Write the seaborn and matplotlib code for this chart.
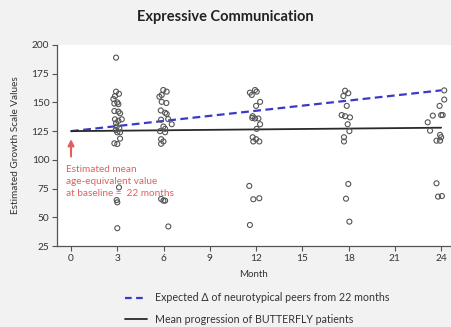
import matplotlib
matplotlib.use("Agg")
import matplotlib.pyplot as plt
import seaborn as sns
import pandas as pd
from matplotlib.lines import Line2D

# --- data ---
month3_x = [2.92, 2.92, 3.11, 2.85, 2.75, 3.0, 2.81, 3.07, 2.81, 3.07, 3.18, 2.85, 3.07, 3.29, 2.92, 2.96, 3.13, 2.9, 3.0, 3.18, 3.18, 2.81, 3.0, 3.11, 2.96, 3.0, 3.0]
month3_y = [189, 159.4, 157.5, 155.5, 153, 150, 149, 148.5, 142.5, 142, 140.5, 135.3, 134, 135.3, 132, 129, 127.5, 126, 124, 124, 118.5, 114.4, 113.8, 76, 65, 63, 40.5]
month6_x = [5.98, 6.2, 5.88, 5.73, 5.88, 6.18, 5.82, 6.1, 6.2, 5.84, 6.3, 6.53, 5.99, 6.1, 5.77, 6.1, 5.84, 5.99, 5.84, 5.84, 5.99, 6.1, 6.31]
month6_y = [160.8, 159.4, 156.5, 155, 150.5, 149.5, 143, 141, 140, 135, 135.5, 131, 129, 127, 125, 124, 118, 116, 114, 66, 64.5, 64.5, 42]
month12_x = [11.6, 11.72, 11.93, 12.04, 12.26, 12.0, 11.78, 11.93, 12.15, 11.75, 12.26, 12.04, 11.78, 11.82, 12.21, 12.0, 11.56, 11.82, 12.21, 11.6]
month12_y = [158.5, 156.5, 160.8, 159.4, 150.5, 147, 138, 136, 136, 136.5, 131, 127, 119.7, 116, 116, 118, 77.3, 65.7, 66.6, 43.3]
month18_x = [17.77, 17.98, 17.66, 17.88, 17.55, 17.77, 18.09, 17.94, 18.05, 17.7, 17.7, 17.98, 17.83, 18.05]
month18_y = [160.2, 158, 155.6, 147, 139, 138, 137, 131, 125, 119.7, 116, 79, 66.2, 46.2]
month24_x = [24.2, 24.2, 23.9, 23.46, 24.0, 24.1, 23.13, 23.28, 23.93, 24.0, 23.7, 23.93, 23.7, 23.8, 24.05]
month24_y = [160.5, 152.5, 147, 138.5, 139, 139, 132.7, 125.4, 121.7, 119.7, 116.7, 116.7, 79.6, 68, 68.5]

line_months = [0, 24]
expected_peers = [125, 160.5]
mean_butterfly = [125, 128]

x_ticks = [0, 3, 6, 9, 12, 15, 18, 21, 24]
y_ticks = [25, 50, 75, 100, 125, 150, 175, 200]

title = "Expressive Communication"
legend_expected = "Expected \u0394 of neurotypical peers from 22 months"
legend_mean = "Mean progression of BUTTERFLY patients"
annotation = "Estimated mean\nage-equivalent value\nat baseline =  22 months"

pts = pd.DataFrame({
    "month": month3_x + month6_x + month12_x + month18_x + month24_x,
    "value": month3_y + month6_y + month12_y + month18_y + month24_y,
})
lines = pd.DataFrame({"month": line_months, "expected": expected_peers, "mean": mean_butterfly})

sns.set_style("white")
plt.rcParams["font.family"] = ["Lato", "DejaVu Sans"]

fig = plt.figure(figsize=(4.51, 3.27), dpi=100, facecolor="#f2f2f2")
ax = fig.add_axes([57/451, 1-246/327, 1-57/451, (246-45)/327])
ax.set_facecolor("white")

sns.scatterplot(data=pts, x="month", y="value", ax=ax, marker="o", s=13,
                facecolor="none", edgecolor="#555555", linewidth=0.8, legend=False, zorder=3)
sns.lineplot(data=lines, x="month", y="expected", ax=ax, color="#3a3ac8", lw=1.6,
             linestyle=(0, (3.5, 2)), zorder=2)
sns.lineplot(data=lines, x="month", y="mean", ax=ax, color="#2a2a2a", lw=1.3, zorder=2)

ax.set_xlim(-0.91, 24.64)
ax.set_ylim(25, 200)
ax.set_xticks(x_ticks)
ax.set_yticks(y_ticks)
ax.tick_params(axis="both", labelsize=7.3, length=3.5, width=0.8, color="#555555",
               labelcolor="#333333", pad=2, direction="out", bottom=True, left=True)
for side in ["top", "right"]:
    ax.spines[side].set_visible(False)
for side in ["left", "bottom"]:
    ax.spines[side].set_color("#555555")
    ax.spines[side].set_linewidth(0.9)

ax.set_xlabel("Month", fontsize=7, color="#333333", labelpad=5)
ax.set_ylabel("Estimated Growth Scale Values", fontsize=7.2, color="#333333", labelpad=8)
fig.text(0.5, 1-17/327, title, ha="center", va="center", fontsize=10.5,
         fontweight="bold", color="#222222")

ax.annotate("", xy=(0, 120.5), xytext=(0, 100.5),
            arrowprops=dict(arrowstyle="-|>", color="#e06060", lw=1.5, mutation_scale=9))
ax.text(-0.3, 95.5, annotation, fontsize=7.2, color="#e06060", va="top", ha="left",
        linespacing=1.45)

handles = [Line2D([], [], color="#3a3ac8", lw=1.6, linestyle=(0, (3, 2))),
           Line2D([], [], color="#2a2a2a", lw=1.3)]
fig.legend(handles, [legend_expected, legend_mean], loc="upper left",
           bbox_to_anchor=(120/451, 1-287/327), frameon=False, fontsize=7.7,
           handlelength=2.0, handletextpad=0.8, labelspacing=0.95, borderpad=0,
           labelcolor="#333333")

fig.savefig("out.png", dpi=100, facecolor=fig.get_facecolor())
